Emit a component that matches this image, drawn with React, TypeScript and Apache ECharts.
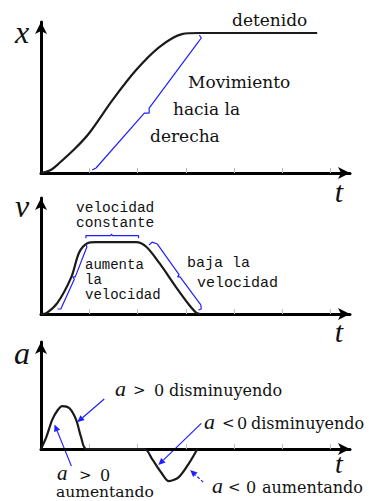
import React, { useEffect, useRef } from "react";
import * as echarts from "echarts";

// Position curve x(t)
const posT = [0, 0.2, 0.38, 0.7, 1.0, 1.48, 1.97, 2.45, 2.92, 3.28, 5.72];
const posX = [0, 0.02, 0.066, 0.16, 0.265, 0.483, 0.682, 0.834, 0.92, 0.927, 0.927];

// Velocity curve v(t)
const velT = [0, 0.12, 0.34, 0.63, 0.79, 0.96, 1.14, 1.97, 2.18, 2.45, 2.8, 3.07, 3.22, 3.3];
const velV = [0, 0.01, 0.095, 0.32, 0.53, 0.61, 0.62, 0.62, 0.58, 0.44, 0.23, 0.078, 0.01, 0];

// Acceleration curve a(t)
const accT = [0, 0.11, 0.23, 0.34, 0.44, 0.59, 0.73, 0.83, 0.94, 2.14, 2.31, 2.49, 2.65, 2.86, 3.07, 3.24];
const accA = [0, 0.11, 0.27, 0.36, 0.4, 0.38, 0.27, 0.11, 0, 0, -0.1, -0.22, -0.3, -0.26, -0.13, 0];

// Brace beside the rising position curve
const braceXT = [1.06, 1.14, 2.14, 2.24, 2.24, 3.24, 3.32, 3.28];
const braceXV = [0.02, 0.033, 0.397, 0.397, 0.43, 0.86, 0.894, 0.914];

// Braces in the velocity panel
const braceConstT = [0.93, 0.93, 1.44, 1.46, 1.48, 2.02, 2.02];
const braceConstV = [0.653, 0.675, 0.675, 0.69, 0.675, 0.675, 0.653];
const braceUpT = [0.34, 0.41, 0.69, 0.66, 0.71, 0.95, 0.93];
const braceUpV = [0.043, 0.043, 0.3, 0.32, 0.32, 0.578, 0.603];
const braceDownT = [2.24, 2.3, 2.41, 2.86, 2.83, 2.88, 3.31, 3.32, 3.26];
const braceDownV = [0.595, 0.62, 0.603, 0.34, 0.32, 0.32, 0.078, 0.043, 0.034];

// Pointer arrows in the acceleration panel: [tailT, tailA, headT, headA]
const arrowPosDecr = [1.31, 0.467, 0.75, 0.25];
const arrowPosIncr = [0.63, -0.16, 0.28, 0.23];
const arrowNegDecr = [3.32, 0.24, 2.43, -0.15];
const arrowNegIncr = [3.36, -0.31, 3.09, -0.196];

const tickValues = [1, 2, 3, 4, 5, 6];

const pairs = (a: number[], b: number[]) => a.map((t, i) => [t, b[i]]);

const SERIF = "DejaVu Serif";
const MONO = "Liberation Mono";
const ITALIC = "Liberation Serif";

type Part = {
  text: string;
  x: number;
  y: number;
  font: string;
  size: number;
  italic?: boolean;
  center?: boolean;
};

const textParts: Part[] = [
  // axis names
  { text: "x", x: 22, y: 32, font: ITALIC, size: 32, italic: true, center: true },
  { text: "t", x: 339, y: 191, font: ITALIC, size: 30, italic: true, center: true },
  { text: "v", x: 22, y: 206, font: ITALIC, size: 32, italic: true, center: true },
  { text: "t", x: 339, y: 331, font: ITALIC, size: 30, italic: true, center: true },
  { text: "a", x: 22, y: 353, font: ITALIC, size: 32, italic: true, center: true },
  { text: "t", x: 339, y: 463, font: ITALIC, size: 28, italic: true, center: true },

  { text: "detenido", x: 232, y: 20, font: SERIF, size: 17 },
  { text: "Movimiento", x: 188, y: 82, font: SERIF, size: 17 },
  { text: "hacia la", x: 173, y: 109, font: SERIF, size: 17 },
  { text: "derecha", x: 150, y: 136, font: SERIF, size: 17 },

  { text: "velocidad", x: 76, y: 208, font: MONO, size: 14.5 },
  { text: "constante", x: 76, y: 223, font: MONO, size: 14.5 },
  { text: "aumenta", x: 85, y: 265, font: MONO, size: 14 },
  { text: "la", x: 85, y: 280, font: MONO, size: 14 },
  { text: "velocidad", x: 85, y: 295, font: MONO, size: 14 },
  { text: "baja la", x: 187, y: 263, font: MONO, size: 15 },
  { text: "velocidad", x: 197, y: 283, font: MONO, size: 15 },

  { text: "a", x: 115, y: 388, font: ITALIC, size: 22, italic: true },
  { text: ">", x: 133, y: 390, font: SERIF, size: 15 },
  { text: "0", x: 154, y: 390, font: SERIF, size: 16 },
  { text: "disminuyendo", x: 169, y: 390, font: SERIF, size: 16 },

  { text: "a", x: 204, y: 421, font: ITALIC, size: 22, italic: true },
  { text: "<", x: 222, y: 423, font: SERIF, size: 15 },
  { text: "0", x: 237, y: 423, font: SERIF, size: 16 },
  { text: "disminuyendo", x: 251, y: 423, font: SERIF, size: 16 },

  { text: "a", x: 57, y: 473, font: ITALIC, size: 21, italic: true },
  { text: ">", x: 79, y: 475, font: SERIF, size: 15 },
  { text: "0", x: 100, y: 475, font: SERIF, size: 16 },
  { text: "aumentando", x: 56, y: 492, font: SERIF, size: 15.5 },

  { text: "a", x: 212, y: 485, font: ITALIC, size: 22, italic: true },
  { text: "<", x: 228, y: 487, font: SERIF, size: 15 },
  { text: "0", x: 246, y: 487, font: SERIF, size: 16 },
  { text: "aumentando", x: 262, y: 487, font: SERIF, size: 16 },
];

const BLUE = "#1f1fff";
const CURVE = "#1a1a1a";

function makeAxes(idx: number) {
  return {
    x: {
      type: "value",
      gridIndex: idx,
      min: 0,
      max: 6.4,
      interval: 1,
      axisLabel: { show: false },
      splitLine: { show: false },
      axisTick: {
        show: true,
        inside: true,
        length: 5,
        customValues: tickValues,
        lineStyle: { color: "#bdbdbd", width: 1 },
      },
      axisLine: {
        onZero: false,
        symbol: ["none", "arrow"],
        symbolSize: [9, 12],
        lineStyle: { color: "#000", width: 3 },
      },
    },
    y: {
      type: "value",
      gridIndex: idx,
      min: 0,
      max: 1,
      axisLabel: { show: false },
      splitLine: { show: false },
      axisTick: { show: false },
      axisLine: {
        onZero: false,
        symbol: ["none", "arrow"],
        symbolSize: [9, 12],
        lineStyle: { color: "#000", width: 3 },
      },
    },
  };
}

export default function App() {
  const ref = useRef<HTMLDivElement>(null);

  useEffect(() => {
    if (!ref.current) return;
    const chart = echarts.init(ref.current, null, { renderer: "svg" });
    const axes = [makeAxes(0), makeAxes(1), makeAxes(2)];

    const curve = (xi: number, data: number[][]) => ({
      type: "line",
      xAxisIndex: xi,
      yAxisIndex: xi,
      data,
      smooth: 0.3,
      symbol: "none",
      clip: false,
      silent: true,
      lineStyle: { color: CURVE, width: 2.2 },
    });

    const brace = (xi: number, data: number[][]) => ({
      type: "line",
      xAxisIndex: xi,
      yAxisIndex: xi,
      data,
      smooth: false,
      symbol: "none",
      clip: false,
      silent: true,
      lineStyle: { color: BLUE, width: 1.2 },
    });

    const texts: any[] = textParts.map((p) => ({
      type: "text",
      x: p.x,
      y: p.y,
      silent: true,
      style: {
        text: p.text,
        fill: "#111",
        font: `${p.italic ? "italic " : ""}${p.size}px "${p.font}"`,
        textAlign: p.center ? "center" : "left",
        verticalAlign: "middle",
      },
    }));

    chart.setOption({
      animation: false,
      grid: [
        { left: 41, top: 22, width: 309, height: 151 },
        { left: 41, top: 198, width: 309, height: 116 },
        { left: 41, top: 342, width: 309, height: 107 },
      ],
      xAxis: axes.map((a) => a.x),
      yAxis: axes.map((a) => a.y),
      series: [
        curve(0, pairs(posT, posX)),
        brace(0, pairs(braceXT, braceXV)),
        curve(1, pairs(velT, velV)),
        brace(1, pairs(braceConstT, braceConstV)),
        brace(1, pairs(braceUpT, braceUpV)),
        brace(1, pairs(braceDownT, braceDownV)),
        curve(2, pairs(accT, accA)),
      ],
      graphic: texts,
    });

    // Pointer arrows: placed through the acceleration grid's scales
    const arrow = (a: number[], dashed: boolean) => {
      const tail = chart.convertToPixel({ gridIndex: 2 }, [a[0], a[1]]) as number[];
      const head = chart.convertToPixel({ gridIndex: 2 }, [a[2], a[3]]) as number[];
      const dx = head[0] - tail[0];
      const dy = head[1] - tail[1];
      const len = Math.hypot(dx, dy);
      const ux = dx / len;
      const uy = dy / len;
      const hl = 7;
      const hw = 3.2;
      const bx = head[0] - ux * hl;
      const by = head[1] - uy * hl;
      return [
        {
          type: "line",
          silent: true,
          shape: { x1: tail[0], y1: tail[1], x2: bx, y2: by },
          style: { stroke: BLUE, lineWidth: 1.2, lineDash: dashed ? [3, 2] : null },
        },
        {
          type: "polygon",
          silent: true,
          shape: {
            points: [
              [head[0], head[1]],
              [bx - uy * hw, by + ux * hw],
              [bx + uy * hw, by - ux * hw],
            ],
          },
          style: { fill: BLUE },
        },
      ];
    };

    const arrows = [
      ...arrow(arrowPosDecr, false),
      ...arrow(arrowPosIncr, false),
      ...arrow(arrowNegDecr, false),
      ...arrow(arrowNegIncr, true),
    ];

    chart.setOption({ graphic: [...texts, ...arrows] });

    return () => chart.dispose();
  }, []);

  return (
    <div
      ref={ref}
      style={{ position: "absolute", left: 0, top: 0, width: 369, height: 501, background: "#fff" }}
    />
  );
}
